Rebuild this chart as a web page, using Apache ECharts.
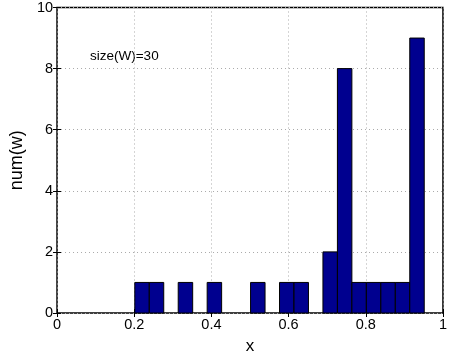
<!DOCTYPE html>
<html>
<head>
<meta charset="utf-8">
<script src="https://cdn.jsdelivr.net/npm/echarts@6/dist/echarts.min.js"></script>
<style>
  html, body { margin: 0; padding: 0; background: #fff; }
  #main { width: 450px; height: 360px; }
</style>
</head>
<body>
<div id="main"></div>
<script>
// histogram bins (left edges) and counts
const binLeft = [0.2015, 0.239, 0.2765, 0.314, 0.3515, 0.389, 0.4265, 0.464, 0.5015, 0.539,
                 0.5765, 0.614, 0.6515, 0.689, 0.7265, 0.764, 0.8015, 0.839, 0.8765, 0.914];
const binWidth = 0.0375;
const counts = [1, 1, 0, 1, 0, 1, 0, 0, 1, 0, 1, 1, 0, 2, 8, 1, 1, 1, 1, 9];
const xTicks = [0, 0.2, 0.4, 0.6, 0.8, 1];
const yTicks = [0, 2, 4, 6, 8, 10];
const note = 'size(W)=30';

const barData = binLeft.map((l, i) => [l, l + binWidth, counts[i]]);

const font = 'Liberation Sans, Arial, Helvetica, sans-serif';
let myChart = echarts.init(document.getElementById('main'));

const hiddenAxis = {
  axisLine: { show: false },
  axisTick: { show: true, inside: true, length: 4, lineStyle: { color: '#000' } },
  axisLabel: { show: false },
  splitLine: { show: false }
};

let option = {
  animation: false,
  backgroundColor: '#fff',
  grid: { left: 56, right: 2, top: 5, bottom: 46, show: true, borderColor: '#000', borderWidth: 1.5 },
  xAxis: [{
    type: 'value', min: 0, max: 1, interval: 0.2,
    name: 'x', nameLocation: 'middle', nameGap: 25,
    nameTextStyle: { fontFamily: font, fontSize: 17, color: '#000' },
    axisLine: { show: false },
    axisTick: { show: true, inside: true, length: 4, lineStyle: { color: '#000' } },
    axisLabel: { fontFamily: font, fontSize: 14.5, color: '#000', margin: 4,
      formatter: v => xTicks.indexOf(+v.toFixed(1)) >= 0 ? String(+v.toFixed(1)) : '' },
    splitLine: { show: true, lineStyle: { type: [1, 3], color: '#aaa' } }
  }, Object.assign({ type: 'value', min: 0, max: 1, interval: 0.2, position: 'top', gridIndex: 0 }, hiddenAxis)],
  yAxis: [{
    type: 'value', min: 0, max: 10, interval: 2,
    name: 'num(w)', nameLocation: 'middle', nameGap: 31, nameRotate: 90,
    nameTextStyle: { fontFamily: font, fontSize: 18, color: '#000' },
    axisLine: { show: false },
    axisTick: { show: true, inside: true, length: 4, lineStyle: { color: '#000' } },
    axisLabel: { fontFamily: font, fontSize: 14.5, color: '#000', margin: 4,
      formatter: v => yTicks.indexOf(v) >= 0 ? String(v) : '' },
    splitLine: { show: true, lineStyle: { type: [1, 3], color: '#aaa' } }
  }, Object.assign({ type: 'value', min: 0, max: 10, interval: 2, position: 'right', gridIndex: 0 }, hiddenAxis)],
  graphic: [{
    type: 'text', left: 90, top: 49,
    style: { text: note, fontFamily: font, fontSize: 13.5, fill: '#000' }
  }],
  series: [{
    type: 'custom',
    xAxisIndex: 0, yAxisIndex: 0,
    data: barData,
    encode: { x: [0, 1], y: 2 },
    renderItem: function (params, api) {
      if (api.value(2) <= 0) return null;
      const p0 = api.coord([api.value(0), 0]);
      const p1 = api.coord([api.value(1), api.value(2)]);
      return {
        type: 'rect',
        shape: { x: p0[0], y: p1[1], width: p1[0] - p0[0], height: p0[1] - p1[1] },
        style: { fill: '#00008F', stroke: '#000', lineWidth: 1 }
      };
    }
  }]
};
myChart.setOption(option);
</script>
</body>
</html>
